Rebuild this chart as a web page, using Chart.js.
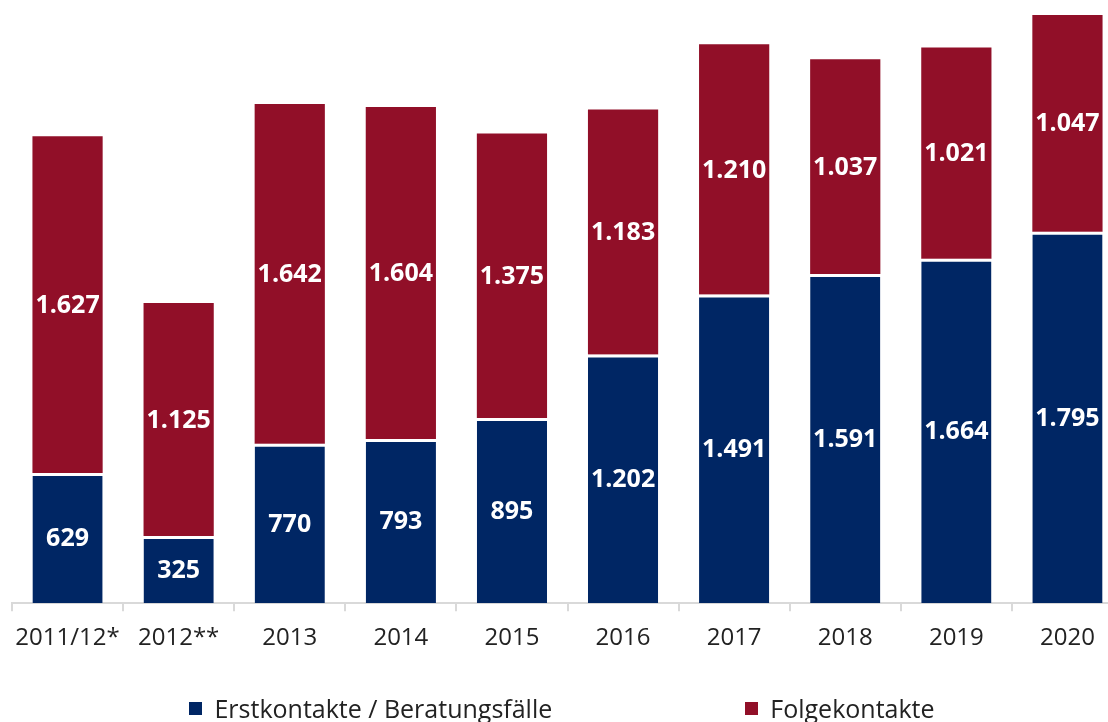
<!DOCTYPE html>
<html lang="de">
<head>
<meta charset="utf-8">
<script src="https://cdn.jsdelivr.net/npm/chart.js@4"></script>
<style>
  html, body { margin: 0; padding: 0; background: #fff; overflow: hidden; }
  #wrap { position: relative; width: 1124px; height: 722px; }
  #legend {
    position: absolute; left: 0; top: 691px; width: 1124px;
    display: flex; justify-content: center; gap: 193px;
    font-family: "Open Sans", sans-serif; font-size: 25px; color: #222;
  }
  .item { display: flex; align-items: center; }
  .box { width: 13px; height: 13px; margin-right: 12px; }
</style>
</head>
<body>
<div id="wrap">
  <canvas id="chart" width="1124" height="722"></canvas>
  <div id="legend"></div>
</div>
<script>
const categories = ["2011/12*", "2012**", "2013", "2014", "2015", "2016", "2017", "2018", "2019", "2020"];
const erstkontakte = [629, 325, 770, 793, 895, 1202, 1491, 1591, 1664, 1795];
const folgekontakte = [1627, 1125, 1642, 1604, 1375, 1183, 1210, 1037, 1021, 1047];
const seriesNames = ["Erstkontakte / Beratungsfälle", "Folgekontakte"];
const seriesColors = ["#002664", "#910f28"];

function formatDe(n) {
  return String(n).replace(/\B(?=(\d{3})+(?!\d))/g, ".");
}

// white centered values inside every bar segment
const valueLabels = {
  id: "valueLabels",
  afterDatasetsDraw(chart) {
    const ctx = chart.ctx;
    ctx.save();
    ctx.fillStyle = "#fff";
    ctx.font = "bold 25px 'Open Sans', sans-serif";
    ctx.textAlign = "center";
    ctx.textBaseline = "middle";
    chart.data.datasets.forEach((ds, i) => {
      chart.getDatasetMeta(i).data.forEach((bar, j) => {
        ctx.fillText(formatDe(ds.data[j]), bar.x, (bar.y + bar.base) / 2 + 1);
      });
    });
    ctx.restore();
  }
};

new Chart(document.getElementById("chart"), {
  type: "bar",
  data: {
    labels: categories,
    datasets: [
      {
        label: seriesNames[0],
        data: erstkontakte,
        backgroundColor: seriesColors[0],
        borderColor: "#fff",
        borderWidth: { top: 3, left: 0, right: 0, bottom: 0 },
        borderSkipped: false
      },
      {
        label: seriesNames[1],
        data: folgekontakte,
        backgroundColor: seriesColors[1],
        borderWidth: 0
      }
    ]
  },
  options: {
    responsive: false,
    animation: false,
    layout: { padding: { left: 12, right: 1, top: 3, bottom: 56 } },
    datasets: { bar: { barPercentage: 0.632, categoryPercentage: 1 } },
    plugins: {
      legend: { display: false },
      tooltip: { enabled: false }
    },
    scales: {
      x: {
        stacked: true,
        grid: {
          offset: true,
          drawOnChartArea: false,
          drawTicks: true,
          tickLength: 8,
          color: "#d9d9d9",
          lineWidth: 2
        },
        border: { color: "#d9d9d9", width: 2 },
        ticks: {
          color: "#222",
          padding: 13,
          maxRotation: 0,
          font: { family: "'Open Sans', sans-serif", size: 24 }
        }
      },
      y: {
        stacked: true,
        display: false,
        min: 0,
        max: 2900
      }
    }
  },
  plugins: [valueLabels]
});

const legend = document.getElementById("legend");
seriesNames.forEach((name, i) => {
  const item = document.createElement("div");
  item.className = "item";
  item.innerHTML = `<span class="box" style="background:${seriesColors[i]}"></span><span>${name}</span>`;
  legend.appendChild(item);
});
</script>
</body>
</html>
